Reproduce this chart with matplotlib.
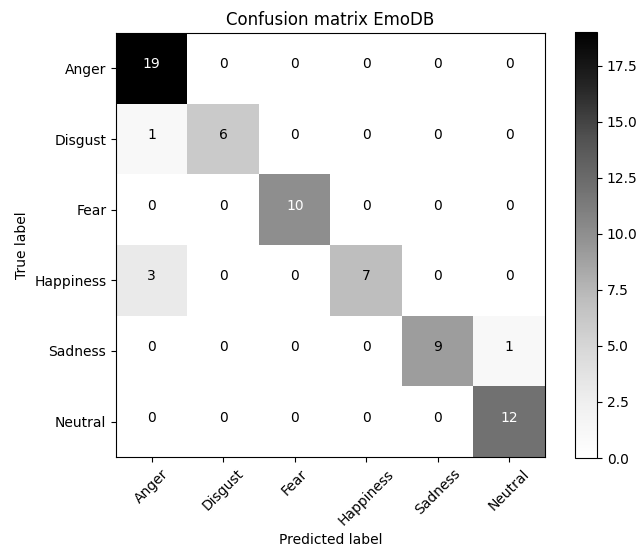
import numpy as np
import matplotlib
matplotlib.use("Agg")
import matplotlib.pyplot as plt

# class names and confusion counts (rows = true, cols = predicted)
classes = ["Anger", "Disgust", "Fear", "Happiness", "Sadness", "Neutral"]
row_anger = [19, 0, 0, 0, 0, 0]
row_disgust = [1, 6, 0, 0, 0, 0]
row_fear = [0, 0, 10, 0, 0, 0]
row_happiness = [3, 0, 0, 7, 0, 0]
row_sadness = [0, 0, 0, 0, 9, 1]
row_neutral = [0, 0, 0, 0, 0, 12]

cm = np.array([row_anger, row_disgust, row_fear, row_happiness, row_sadness, row_neutral])

fig = plt.figure(figsize=(6.39, 5.51), dpi=100)
ax = fig.add_axes([116 / 639, 94 / 551, 429 / 639, 424 / 551])
cax = fig.add_axes([575 / 639, 93 / 551, 22 / 639, 426 / 551])

im = ax.imshow(cm, interpolation="nearest", cmap=plt.cm.Greys, aspect="auto")
ax.set_title("Confusion matrix EmoDB")
fig.colorbar(im, cax=cax)

ticks = np.arange(len(classes))
ax.set_xticks(ticks)
ax.set_xticklabels(classes, rotation=45)
ax.set_yticks(ticks)
ax.set_yticklabels(classes)

# numbers sit on the cell centre baseline, white on dark cells
thresh = cm.max() / 2.0
for i in range(cm.shape[0]):
    for j in range(cm.shape[1]):
        ax.text(j, i, format(cm[i, j], "d"),
                horizontalalignment="center",
                color="white" if cm[i, j] > thresh else "black")

ax.set_ylabel("True label")
ax.set_xlabel("Predicted label")

fig.savefig("out.png", dpi=100)
